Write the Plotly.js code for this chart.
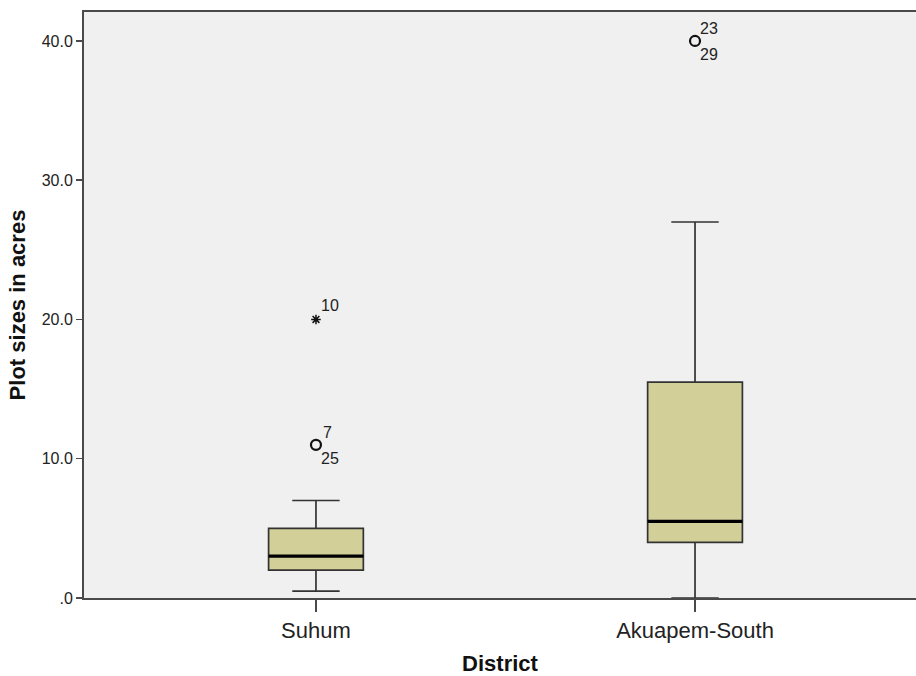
<!DOCTYPE html>
<html>
<head>
<meta charset="utf-8">
<script src="https://cdn.plot.ly/plotly-3.0.1.min.js"></script>
<style>html,body{margin:0;padding:0;background:#fff;}#chart{width:916px;height:676px;}</style>
</head>
<body>
<div id="chart"></div>
<script>
// Plot sizes (acres) by district: five-number summaries and flagged cases
const districts = ['Suhum', 'Akuapem-South'];
const lowerWhisker = [0.5, 0];
const q1 = [2, 4];
const medians = [3, 5.5];
const q3 = [5, 15.5];
const upperWhisker = [7, 27];

// Outliers (circles) and extreme values (stars), with case numbers
const outlierDistrict = [0, 1];
const outlierValues = [11, 40];
const outlierCasesAbove = ['7', '23'];
const outlierCasesBelow = ['25', '29'];
const extremeDistrict = [0];
const extremeValues = [20];
const extremeCases = ['10'];

const pos = districts.map((d, i) => i);
const boxW = 0.25;
const fill = '#d3cf99';
const ink = '#333333';
const font = 'Liberation Sans, Arial, sans-serif';

const traces = [];
pos.forEach((p, i) => {
  traces.push({
    type: 'box', x: [p], q1: [q1[i]], median: [medians[i]], q3: [q3[i]],
    lowerfence: [lowerWhisker[i]], upperfence: [upperWhisker[i]],
    width: boxW, whiskerwidth: 0.5, fillcolor: fill,
    line: {color: ink, width: 1.7}, boxpoints: false, hoverinfo: 'skip'
  });
  // heavier median bar
  traces.push({
    type: 'scatter', mode: 'lines', x: [p - boxW / 2, p + boxW / 2], y: [medians[i], medians[i]],
    line: {color: '#000', width: 3.2}, hoverinfo: 'skip'
  });
});
traces.push({
  type: 'scatter', mode: 'markers', x: outlierDistrict, y: outlierValues,
  marker: {symbol: 'circle-open', size: 10, color: '#111', line: {width: 2.2, color: '#111'}}
});
traces.push({
  type: 'scatter', mode: 'markers', x: extremeDistrict, y: extremeValues,
  marker: {symbol: 'asterisk-open', size: 8, color: '#111', line: {width: 1.5, color: '#111'}}
});

const annotations = [];
const lblFont = {family: font, size: 16, color: '#222'};
function caseLabel(x, y, text, dx, dy) {
  annotations.push({x: x, y: y, text: text, showarrow: false, xanchor: 'left', yanchor: 'middle',
    xshift: dx, yshift: dy, font: lblFont});
}
outlierDistrict.forEach((d, i) => {
  caseLabel(d, outlierValues[i], outlierCasesAbove[i], i === 0 ? 5 : 3, 12);
  caseLabel(d, outlierValues[i], outlierCasesBelow[i], 3, -14);
});
extremeDistrict.forEach((d, i) => caseLabel(d, extremeValues[i], extremeCases[i], 3, 14));

const layout = {
  width: 916, height: 676,
  margin: {l: 84, r: 0, t: 12, b: 78},
  paper_bgcolor: '#ffffff', plot_bgcolor: '#f0f0f0',
  showlegend: false,
  font: {family: font, color: '#222'},
  xaxis: {
    range: [-0.612, 1.583], tickmode: 'array', tickvals: pos, ticktext: districts,
    showgrid: false, zeroline: false, showline: true, linecolor: '#4a4a4a', linewidth: 2, mirror: true,
    ticks: 'outside', ticklen: 12, tickwidth: 1.5, tickcolor: '#4a4a4a',
    tickfont: {family: font, size: 22, color: '#222'},
    title: {text: '<b>District</b>', font: {family: font, size: 22, color: '#111'}, standoff: 13}
  },
  yaxis: {
    range: [0, 42.08], tickmode: 'array', tickvals: [0, 10, 20, 30, 40],
    ticktext: ['.0', '10.0', '20.0', '30.0', '40.0'],
    showgrid: false, zeroline: false, showline: true, linecolor: '#4a4a4a', linewidth: 2,
    ticks: 'outside', ticklen: 6, tickwidth: 1.5, tickcolor: '#4a4a4a',
    tickfont: {family: font, size: 16, color: '#222'},
    title: {text: '<b>Plot sizes in acres</b>', font: {family: font, size: 22, color: '#111'}, standoff: 10}
  },
  annotations: annotations
};

Plotly.newPlot('chart', traces, layout, {staticPlot: true, displayModeBar: false});
</script>
</body>
</html>
